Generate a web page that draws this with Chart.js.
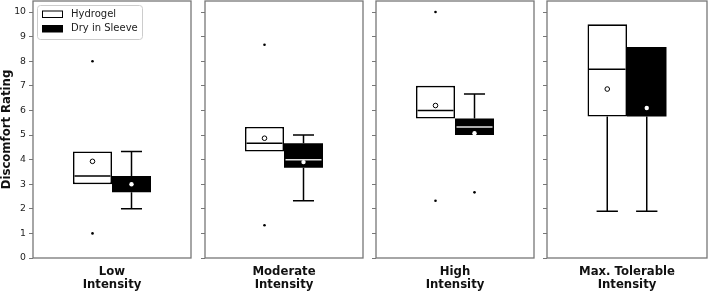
<!DOCTYPE html>
<html><head><meta charset="utf-8">
<script src="https://cdn.jsdelivr.net/npm/chart.js@4.4.0/dist/chart.umd.min.js"></script>
<style>
html,body{margin:0;padding:0;background:#fff;width:708px;height:292px;overflow:hidden;}
canvas{position:absolute;top:0;}
</style></head><body>
<canvas id="c0" width="198" height="292" style="left:0px"></canvas>
<canvas id="c1" width="172" height="292" style="left:198px"></canvas>
<canvas id="c2" width="171" height="292" style="left:370px"></canvas>
<canvas id="c3" width="167" height="292" style="left:541px"></canvas>
<script>
// ---- data ----
const categories = [["Low","Intensity"],["Moderate","Intensity"],["High","Intensity"],["Max. Tolerable","Intensity"]];
const seriesNames = ["Hydrogel","Dry in Sleeve"];
const yTickValues = [0,1,2,3,4,5,6,7,8,9,10];
const yTitle = "Discomfort Rating";

const hydQ1          = [3.00, 4.33, 5.67, 5.75];
const hydMedian      = [3.33, 4.67, 6.00, 7.67];
const hydQ3          = [4.33, 5.33, 7.00, 9.50];
const hydWhiskerLow  = [3.00, 4.33, 5.67, 1.90];
const hydWhiskerHigh = [4.33, 5.33, 7.00, 9.50];
const hydMean        = [3.93, 4.87, 6.20, 6.87];
const hydOutliers    = [[1, 8], [1.33, 8.67], [2.33, 10], []];

const dryQ1          = [2.67, 3.67, 5.00, 5.75];
const dryMedian      = [3.33, 4.00, 5.33, 5.75];
const dryQ3          = [3.33, 4.67, 5.67, 8.58];
const dryWhiskerLow  = [2.00, 2.33, 5.00, 1.90];
const dryWhiskerHigh = [4.33, 5.00, 6.67, 8.58];
const dryMean        = [3.00, 3.90, 5.07, 6.10];
const dryOutliers    = [[], [], [2.67], []];

const stats = [
  {q1: hydQ1, med: hydMedian, q3: hydQ3, lo: hydWhiskerLow, hi: hydWhiskerHigh, mean: hydMean, out: hydOutliers},
  {q1: dryQ1, med: dryMedian, q3: dryQ3, lo: dryWhiskerLow, hi: dryWhiskerHigh, mean: dryMean, out: dryOutliers}
];

// ---- styles ----
const fills = ['#ffffff', '#000000'];
const borderWidths = [1.6, 0];
const medianColors = ['#000000', '#e4e4e4'];
const frameColor = '#777777';
const FONT = '"DejaVu Sans", Verdana, sans-serif';

const layouts = [
  {yWidth: 33, padRight: 7},
  {yWidth: 7,  padRight: 7},
  {yWidth: 6,  padRight: 7},
  {yWidth: 6,  padRight: 1}
];

const boxExtras = {
  id: 'boxExtras',
  beforeDatasetsDraw(chart) {
    const p = chart.options.plugins.boxExtras.panel;
    const y = chart.scales.y, ctx = chart.ctx;
    ctx.save();
    ctx.strokeStyle = '#000'; ctx.lineWidth = 1.5;
    stats.forEach((s, d) => {
      const bar = chart.getDatasetMeta(d).data[0];
      const x = bar.x, hw = bar.width * 0.27;
      ctx.beginPath();
      if (s.lo[p] < s.q1[p]) {
        const yl = y.getPixelForValue(s.lo[p]);
        ctx.moveTo(x, y.getPixelForValue(s.q1[p])); ctx.lineTo(x, yl);
        ctx.moveTo(x - hw, yl); ctx.lineTo(x + hw, yl);
      }
      if (s.hi[p] > s.q3[p]) {
        const yh = y.getPixelForValue(s.hi[p]);
        ctx.moveTo(x, y.getPixelForValue(s.q3[p])); ctx.lineTo(x, yh);
        ctx.moveTo(x - hw, yh); ctx.lineTo(x + hw, yh);
      }
      ctx.stroke();
    });
    ctx.restore();
  },
  afterDatasetsDraw(chart) {
    const p = chart.options.plugins.boxExtras.panel;
    const y = chart.scales.y, ctx = chart.ctx, a = chart.chartArea;
    ctx.save();
    stats.forEach((s, d) => {
      const bar = chart.getDatasetMeta(d).data[0];
      const x = bar.x, w = bar.width;
      const m = s.med[p];
      if (m > s.q1[p] && m < s.q3[p]) {
        ctx.strokeStyle = medianColors[d]; ctx.lineWidth = 1.5;
        ctx.beginPath();
        ctx.moveTo(x - w / 2 + 1.5, y.getPixelForValue(m));
        ctx.lineTo(x + w / 2 - 1.5, y.getPixelForValue(m));
        ctx.stroke();
      }
      // mean
      ctx.beginPath();
      if (d === 0) {
        ctx.arc(x, y.getPixelForValue(s.mean[p]), 2.3, 0, Math.PI * 2);
        ctx.fillStyle = '#fff'; ctx.fill();
        ctx.strokeStyle = '#000'; ctx.lineWidth = 1; ctx.stroke();
      } else {
        ctx.arc(x, y.getPixelForValue(s.mean[p]), 2.2, 0, Math.PI * 2);
        ctx.fillStyle = '#fff'; ctx.fill();
      }
      // outliers
      ctx.fillStyle = '#000';
      s.out[p].forEach(v => {
        ctx.beginPath();
        ctx.arc(x, y.getPixelForValue(v), 1.3, 0, Math.PI * 2);
        ctx.fill();
      });
    });
    // frame
    ctx.strokeStyle = frameColor; ctx.lineWidth = 1.3;
    ctx.strokeRect(a.left, a.top, a.right - a.left, a.bottom - a.top);
    ctx.restore();

    if (chart.options.plugins.boxExtras.legend) {
      ctx.save();
      const lx = 37.5, ly = 5.5, lw = 105, lh = 34, r = 3;
      ctx.beginPath();
      ctx.moveTo(lx + r, ly); ctx.lineTo(lx + lw - r, ly); ctx.arcTo(lx + lw, ly, lx + lw, ly + r, r);
      ctx.lineTo(lx + lw, ly + lh - r); ctx.arcTo(lx + lw, ly + lh, lx + lw - r, ly + lh, r);
      ctx.lineTo(lx + r, ly + lh); ctx.arcTo(lx, ly + lh, lx, ly + lh - r, r);
      ctx.lineTo(lx, ly + r); ctx.arcTo(lx, ly, lx + r, ly, r); ctx.closePath();
      ctx.fillStyle = 'rgba(255,255,255,0.8)'; ctx.fill();
      ctx.strokeStyle = '#cccccc'; ctx.lineWidth = 1; ctx.stroke();
      chart.data.datasets.forEach((ds, i) => {
        const cy = 14.2 + i * 14.5;
        ctx.fillStyle = ds.backgroundColor;
        ctx.fillRect(42.5, cy - 3.2, 20, 6.5);
        ctx.strokeStyle = '#000'; ctx.lineWidth = 1;
        ctx.strokeRect(42.5, cy - 3.2, 20, 6.5);
        ctx.fillStyle = '#222';
        ctx.font = '10px ' + FONT;
        ctx.textBaseline = 'middle'; ctx.textAlign = 'left';
        ctx.fillText(ds.label, 71, cy);
      });
      ctx.restore();
    }
  }
};

for (let i = 0; i < 4; i++) {
  const L = layouts[i];
  new Chart(document.getElementById('c' + i), {
    type: 'bar',
    data: {
      labels: [categories[i]],
      datasets: stats.map((s, d) => ({
        label: seriesNames[d],
        data: [[s.q1[i], s.q3[i]]],
        backgroundColor: fills[d],
        borderColor: '#000',
        borderWidth: borderWidths[d],
        borderSkipped: false
      }))
    },
    options: {
      responsive: false,
      animation: false,
      devicePixelRatio: 1,
      categoryPercentage: 78 / 158,
      barPercentage: 1.0,
      layout: {padding: {top: 1, right: L.padRight, bottom: 0, left: 0}},
      plugins: {
        legend: {display: false},
        tooltip: {enabled: false},
        boxExtras: {panel: i, legend: i === 0}
      },
      scales: {
        x: {
          grid: {display: false},
          border: {display: false},
          ticks: {
            color: '#111', padding: 0, maxRotation: 0, autoSkip: false,
            font: {family: FONT, size: 11.7, weight: 'bold', lineHeight: 1.1}
          },
          afterFit(scale) { scale.height = 34; scale.paddingLeft = 0; scale.paddingRight = 0; }
        },
        y: {
          min: 0, max: 10.45,
          afterBuildTicks(scale) { scale.ticks = yTickValues.map(v => ({value: v})); },
          grid: {drawOnChartArea: false, drawTicks: true, tickLength: 4, color: frameColor, lineWidth: 1},
          border: {display: false},
          ticks: {display: i === 0, color: '#222', padding: 3, font: {family: FONT, size: 9.3}},
          title: {
            display: i === 0, text: yTitle, color: '#111', padding: {top: 0, bottom: 0},
            font: {family: FONT, size: 11.7, weight: 'bold', lineHeight: 1.2}
          },
          afterFit(scale) { scale.width = L.yWidth; scale.paddingTop = 0; scale.paddingBottom = 0; }
        }
      }
    },
    plugins: [boxExtras]
  });
}
</script>
</body></html>
